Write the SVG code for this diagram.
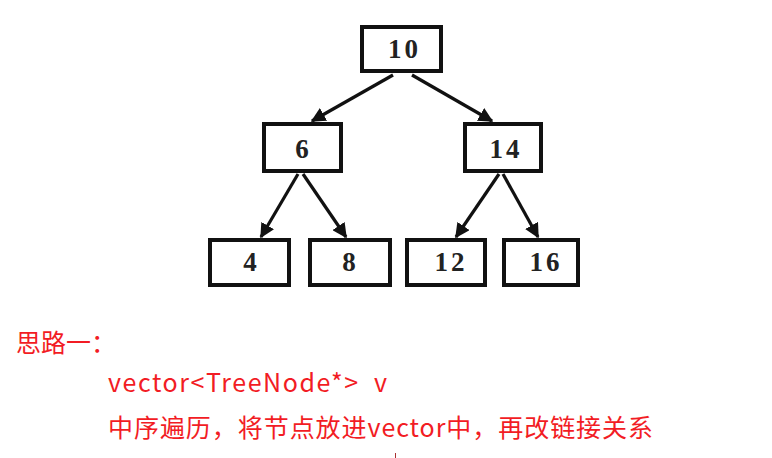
<svg xmlns="http://www.w3.org/2000/svg" width="772" height="458" viewBox="0 0 772 458">
<defs>
<style>
.box{fill:#fff;stroke:#111;stroke-width:4}
.num{font-family:"Liberation Serif","DejaVu Serif",serif;font-weight:bold;font-size:27px;letter-spacing:3px;fill:#222;text-anchor:middle}
.edge{stroke:#111;stroke-width:3.2;fill:none;marker-end:url(#ah)}
.note{font-family:"Noto Sans CJK SC","Noto Sans",sans-serif;font-size:25px;fill:#f21c24}
</style>
<marker id="ah" viewBox="0 0 10 10" refX="9" refY="5" markerWidth="4.6" markerHeight="4.6" orient="auto" markerUnits="strokeWidth">
<path d="M0,0 L10,5 L0,10 z" fill="#111"/>
</marker>
</defs>
<rect width="772" height="458" fill="#fff"/>
<g id="connectors">
<line class="edge" x1="393" y1="75" x2="312" y2="121"/>
<line class="edge" x1="412" y1="75" x2="492" y2="121"/>
<line class="edge" x1="298" y1="174" x2="261" y2="237"/>
<line class="edge" x1="303" y1="174" x2="346" y2="237"/>
<line class="edge" x1="499" y1="174" x2="456" y2="237"/>
<line class="edge" x1="503" y1="174" x2="538" y2="237"/>
</g>
<g id="n10"><rect class="box" x="362" y="27" width="79" height="44"/><text class="num" x="404.5" y="58">10</text></g>
<g id="n6"><rect class="box" x="264" y="124" width="77" height="47"/><text class="num" x="303.5" y="158">6</text></g>
<g id="n14"><rect class="box" x="465" y="124" width="76" height="47"/><text class="num" x="506" y="158">14</text></g>
<g id="n4"><rect class="box" x="210" y="240" width="79" height="45"/><text class="num" x="251.5" y="271">4</text></g>
<g id="n8"><rect class="box" x="310" y="240" width="80" height="45"/><text class="num" x="350.5" y="271">8</text></g>
<g id="n12"><rect class="box" x="407" y="240" width="78" height="45"/><text class="num" x="451" y="271">12</text></g>
<g id="n16"><rect class="box" x="504" y="240" width="74" height="45"/><text class="num" x="546" y="271">16</text></g>
<g id="notes">
<text class="note" x="16" y="352">思路一：</text>
<text class="note" x="108" y="392" textLength="279" lengthAdjust="spacing" xml:space="preserve">vector&lt;TreeNode*&gt;  v</text>
<text class="note" x="108" y="437" textLength="545" lengthAdjust="spacing">中序遍历，将节点放进vector中，再改链接关系</text>
</g>
<line x1="395.5" y1="453" x2="395.5" y2="458" stroke="#a83030" stroke-width="1"/>
</svg>
